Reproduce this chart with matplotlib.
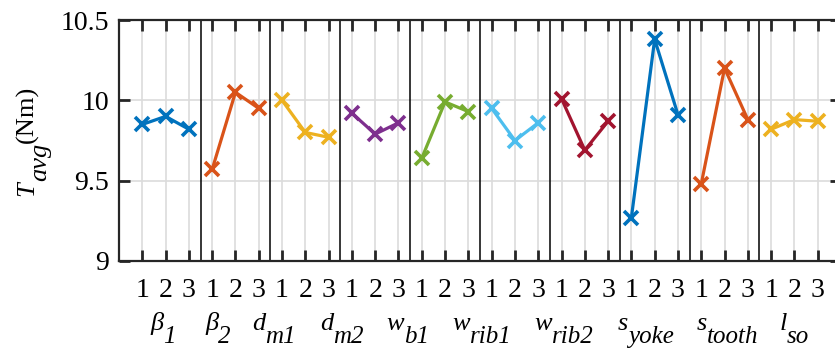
import matplotlib
matplotlib.use('Agg')
import matplotlib.pyplot as plt
import numpy as np

# factor symbols and their subscripts
symbols = ['β', 'β', 'd', 'd', 'w', 'w', 'w', 's', 's', 'l']
subscripts = ['1', '2', 'm1', 'm2', 'b1', 'rib1', 'rib2', 'yoke', 'tooth', 'so']
levels = ['1', '2', '3']

# average torque (Nm) per factor at levels 1, 2, 3
t_beta1 = [9.85, 9.90, 9.82]
t_beta2 = [9.57, 10.05, 9.95]
t_dm1 = [10.00, 9.80, 9.77]
t_dm2 = [9.92, 9.79, 9.86]
t_wb1 = [9.64, 9.99, 9.93]
t_wrib1 = [9.95, 9.75, 9.86]
t_wrib2 = [10.01, 9.69, 9.87]
t_syoke = [9.27, 10.38, 9.91]
t_stooth = [9.48, 10.20, 9.88]
t_lso = [9.82, 9.88, 9.87]
series = [t_beta1, t_beta2, t_dm1, t_dm2, t_wb1, t_wrib1, t_wrib2, t_syoke, t_stooth, t_lso]

colors = ['#0072BD', '#D95319', '#EDB120', '#7E2F8E', '#77AC30',
          '#4DBEEE', '#A2142F', '#0072BD', '#D95319', '#EDB120']

# left edge of each factor label, in x data units
label_x = [1.33, 3.69, 5.71, 8.63, 11.5, 14.33, 17.85, 21.4, 24.8, 28.37]

plt.rcParams['font.family'] = 'serif'
plt.rcParams['font.serif'] = ['Liberation Serif']
FONT = 'Liberation Serif'

W, H = 835, 349
fig = plt.figure(figsize=(W / 100, H / 100), dpi=100)
ax = fig.add_axes([119 / W, (H - 261) / H, 722 / W, 241 / H])

n = len(series)
xt = []
for g, vals in enumerate(series):
    x = np.arange(3) + 3 * g + 1
    xt.extend(x)
    ax.plot(x, vals, color=colors[g], lw=2.3, marker='x', ms=10, mew=2.6, zorder=3)
    if g > 0:
        ax.axvline(3 * g + 0.5, color='black', lw=1.1, zorder=2)

ax.set_xlim(0, 3 * n + 1)
ax.set_ylim(9, 10.5)
ax.set_xticks(xt)
ax.set_xticklabels(levels * n, fontsize=20, family=FONT)
ax.set_yticks([9, 9.5, 10, 10.5])
ax.set_yticklabels(['9', '9.5', '10', '10.5'], fontsize=20, family=FONT)
ax.grid(True, color='#dcdcdc', lw=1.2, zorder=0)
ax.set_axisbelow(True)
ax.tick_params(axis='both', direction='in', length=8, width=2, color='#262626',
               top=True, right=True)
ax.tick_params(axis='x', pad=12)
ax.tick_params(axis='y', pad=7)
for sp in ax.spines.values():
    sp.set_color('#262626')
    sp.set_linewidth(1.6)

fig.canvas.draw()
renderer = fig.canvas.get_renderer()

# factor labels: italic symbol with a full size, lowered subscript
for sym, sub, lx in zip(symbols, subscripts, label_x):
    px = ax.transData.transform((lx, 9))[0]
    t1 = fig.text(px / W, (H - 330) / H, sym, fontsize=19, style='italic',
                  family=FONT, ha='left', va='baseline')
    ext = t1.get_window_extent(renderer)
    fig.text(ext.x1 / W, (H - 343) / H, sub, fontsize=18, style='italic',
             family=FONT, ha='left', va='baseline')

# y label T_avg(Nm), rotated, centred on the axes
pieces = [('T', 0, 'italic'), ('avg', 13, 'italic'), ('(Nm)', 0, 'normal')]
texts = []
for s, dx, st in pieces:
    t = fig.text(0, 0, s, fontsize=19, style=st, family=FONT, rotation=90,
                 rotation_mode='anchor', ha='left', va='baseline')
    texts.append((t, dx))
lengths = [t.get_window_extent(renderer).height for t, dx in texts]
y0 = (H - 141) - sum(lengths) / 2
for (t, dx), ln in zip(texts, lengths):
    t.set_position(((33 + dx) / W, y0 / H))
    y0 += ln

fig.savefig('out.png', dpi=100)
